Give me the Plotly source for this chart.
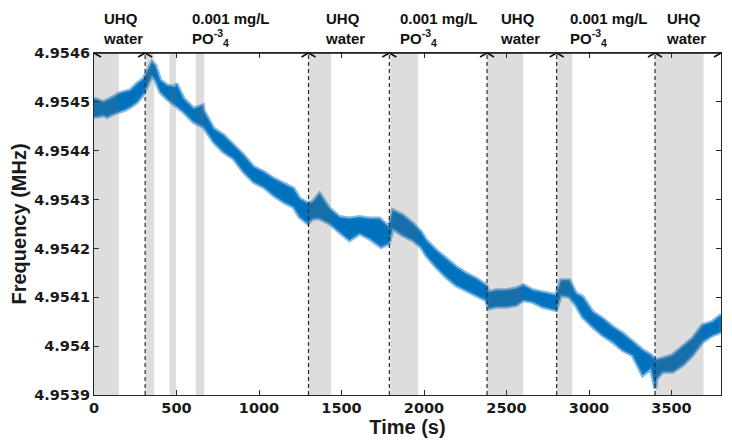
import plotly.graph_objects as go

# ---------------- data ----------------
# upper edge of the noisy frequency trace
upper_t = [0, 59, 119, 150, 180, 220, 261, 301, 321, 351, 372, 402, 442, 493, 499, 543, 604, 660, 664,
           725, 785, 846, 907, 967, 1028, 1088, 1149, 1209, 1246, 1296, 1326, 1367, 1427, 1488, 1548,
           1609, 1669, 1730, 1787, 1811, 1871, 1932, 1982, 2013, 2073, 2134, 2194, 2255, 2315, 2376,
           2392, 2437, 2497, 2558, 2602, 2659, 2719, 2800, 2830, 2881, 2921, 2961, 3022, 3082, 3143,
           3204, 3264, 3325, 3375, 3401, 3446, 3506, 3567, 3627, 3688, 3749, 3800]
upper_f = [4.9545065, 4.9544996, 4.9545098, 4.9545168, 4.9545200, 4.9545235, 4.9545372, 4.9545474,
           4.9545609, 4.9545814, 4.9545746, 4.9545440, 4.9545337, 4.9545303, 4.9545372, 4.9545065,
           4.9544861, 4.9544928, 4.9544826, 4.9544452, 4.9544315, 4.9544110, 4.9543906, 4.9543667,
           4.9543564, 4.9543429, 4.9543327, 4.9543225, 4.9543020, 4.9542918, 4.9542951, 4.9543123,
           4.9542816, 4.9542644, 4.9542611, 4.9542644, 4.9542611, 4.9542611, 4.9542440, 4.9542781,
           4.9542679, 4.9542509, 4.9542337, 4.9542168, 4.9541963, 4.9541793, 4.9541622, 4.9541487,
           4.9541384, 4.9541247, 4.9541110, 4.9541145, 4.9541145, 4.9541180, 4.9541247, 4.9541145,
           4.9541110, 4.9541043, 4.9541350, 4.9541350, 4.9541078, 4.9541008, 4.9540701, 4.9540566,
           4.9540395, 4.9540260, 4.9540088, 4.9539918, 4.9539816, 4.9539714, 4.9539748, 4.9539816,
           4.9539986, 4.9540157, 4.9540429, 4.9540497, 4.9540634]

# lower edge of the noisy frequency trace
lower_t = [0, 59, 79, 119, 150, 180, 220, 261, 301, 321, 351, 372, 402, 442, 493, 543, 604, 664, 725,
           785, 846, 907, 967, 1028, 1088, 1149, 1209, 1246, 1296, 1326, 1367, 1427, 1488, 1548, 1609,
           1669, 1740, 1787, 1811, 1871, 1932, 1982, 2013, 2073, 2134, 2194, 2255, 2315, 2376, 2392,
           2437, 2497, 2558, 2602, 2659, 2719, 2800, 2830, 2881, 2921, 2961, 3022, 3082, 3143, 3204,
           3264, 3325, 3375, 3401, 3410, 3446, 3506, 3567, 3627, 3688, 3749, 3800]
lower_f = [4.9544689, 4.9544724, 4.9544689, 4.9544759, 4.9544791, 4.9544826, 4.9544894, 4.9544996,
           4.9545168, 4.9545303, 4.9545542, 4.9545440, 4.9545200, 4.9545065, 4.9544928, 4.9544791,
           4.9544587, 4.9544485, 4.9544178, 4.9543973, 4.9543838, 4.9543564, 4.9543360, 4.9543258,
           4.9543088, 4.9542951, 4.9542849, 4.9542644, 4.9542509, 4.9542611, 4.9542611, 4.9542509,
           4.9542337, 4.9542168, 4.9542305, 4.9542202, 4.9542031, 4.9542100, 4.9542407, 4.9542270,
           4.9542168, 4.9542031, 4.9541861, 4.9541622, 4.9541417, 4.9541247, 4.9541145, 4.9541043,
           4.9540941, 4.9540771, 4.9540804, 4.9540804, 4.9540838, 4.9540941, 4.9540906, 4.9540804,
           4.9540736, 4.9541043, 4.9541008, 4.9540838, 4.9540599, 4.9540395, 4.9540225, 4.9540088,
           4.9539918, 4.9539816, 4.9539407, 4.9539544, 4.9539135, 4.9539339, 4.9539474, 4.9539474,
           4.9539611, 4.9539816, 4.9540088, 4.9540225, 4.9540292]

# shaded (grey) time windows
shade_start = [0, 312, 458, 616, 1300, 1795, 2382, 2804, 3400]
shade_end = [150, 365, 496, 668, 1438, 1964, 2602, 2899, 3694]

# solution changes (dashed lines) and the segments between them
change_t = [310, 1300, 1790, 2382, 2804, 3400]
seg_start = [0, 310, 1300, 1790, 2382, 2804, 3400]
seg_end = [310, 1300, 1790, 2382, 2804, 3400, 3800]
seg_label = ["UHQ<br>water", "0.001 mg/L<br>PO<sup>-3</sup><sub>4</sub>", "UHQ<br>water",
             "0.001 mg/L<br>PO<sup>-3</sup><sub>4</sub>", "UHQ<br>water",
             "0.001 mg/L<br>PO<sup>-3</sup><sub>4</sub>", "UHQ<br>water"]
label_x = [45, 580, 1387, 1841, 2446, 2870, 3456]

x_ticks = [0, 500, 1000, 1500, 2000, 2500, 3000, 3500]
y_ticks = [4.9539, 4.9540, 4.9541, 4.9542, 4.9543, 4.9544, 4.9545, 4.9546]
y_ticktext = ["4.9539", "4.954", "4.9541", "4.9542", "4.9543", "4.9544", "4.9545", "4.9546"]

# ---------------- figure ----------------
BLUE = "#0072BD"
FONT = "Liberation Sans"
TICKFONT = "DejaVu Sans"
Y_TOP = y_ticks[-1]
Y_BOT = y_ticks[0]

fig = go.Figure()
poly_x = list(upper_t) + list(reversed(lower_t))
poly_y = list(upper_f) + list(reversed(lower_f))
fig.add_trace(go.Scatter(x=poly_x, y=poly_y, mode="lines", fill="toself",
                         fillcolor=BLUE, line=dict(color="rgba(25,128,204,0.55)", width=4),
                         hoverinfo="skip", showlegend=False))

shapes = []
for s, e in zip(shade_start, shade_end):
    shapes.append(dict(type="rect", xref="x", yref="y", x0=s, x1=e, y0=Y_BOT, y1=Y_TOP,
                       fillcolor="rgba(100,100,100,0.22)", line=dict(width=0), layer="above"))
for t in change_t:
    shapes.append(dict(type="line", xref="x", yref="y", x0=t, x1=t, y0=Y_BOT, y1=Y_TOP,
                       line=dict(color="#2a2a2a", width=1.2, dash="4px,3px"), layer="above"))

# double-headed arrows along the top edge: open chevrons at each segment end
for s, e in zip(seg_start, seg_end):
    shapes.append(dict(type="line", xref="x", yref="y", x0=s, x1=e, y0=Y_TOP, y1=Y_TOP,
                       line=dict(color="#111111", width=1.4), layer="above"))
    shapes.append(dict(type="path", xref="x", yref="y", xsizemode="pixel", ysizemode="pixel",
                       xanchor=s, yanchor=Y_TOP, path="M 7,4 L 0,0 L 7,-4",
                       line=dict(color="#111111", width=1.6), layer="above"))
    shapes.append(dict(type="path", xref="x", yref="y", xsizemode="pixel", ysizemode="pixel",
                       xanchor=e, yanchor=Y_TOP, path="M -7,4 L 0,0 L -7,-4",
                       line=dict(color="#111111", width=1.6), layer="above"))

annotations = []
for lx, txt in zip(label_x, seg_label):
    annotations.append(dict(x=lx, y=1, xref="x", yref="paper", xanchor="left", yanchor="top",
                            yshift=45, text=txt, showarrow=False, align="left",
                            font=dict(family=FONT, size=15, color="#111111", weight="bold")))

axis_common = dict(showline=True, linecolor="#262626", linewidth=1, mirror="ticks", ticks="inside",
                   ticklen=5, tickcolor="#262626", showgrid=False, zeroline=False, automargin=False,
                   tickfont=dict(family=TICKFONT, size=14.5, color="#1a1a1a", weight="bold"))

# the page body adds an 8px offset, so the figure is 8px smaller on each side
fig.update_layout(
    width=724, height=433,
    margin=dict(l=86, r=11, t=45, b=46),
    paper_bgcolor="white", plot_bgcolor="white",
    shapes=shapes, annotations=annotations,
    xaxis=dict(range=[0, 3800], tickvals=x_ticks,
               title=dict(text="Time (s)", standoff=4,
                          font=dict(family=FONT, size=20, color="#1a1a1a", weight="bold")),
               **axis_common),
    yaxis=dict(range=[Y_BOT, Y_TOP], tickvals=y_ticks, ticktext=y_ticktext,
               title=dict(text="Frequency (MHz)", standoff=6,
                          font=dict(family=FONT, size=20, color="#1a1a1a", weight="bold")),
               **axis_common),
)

fig.write_html("out.html")
